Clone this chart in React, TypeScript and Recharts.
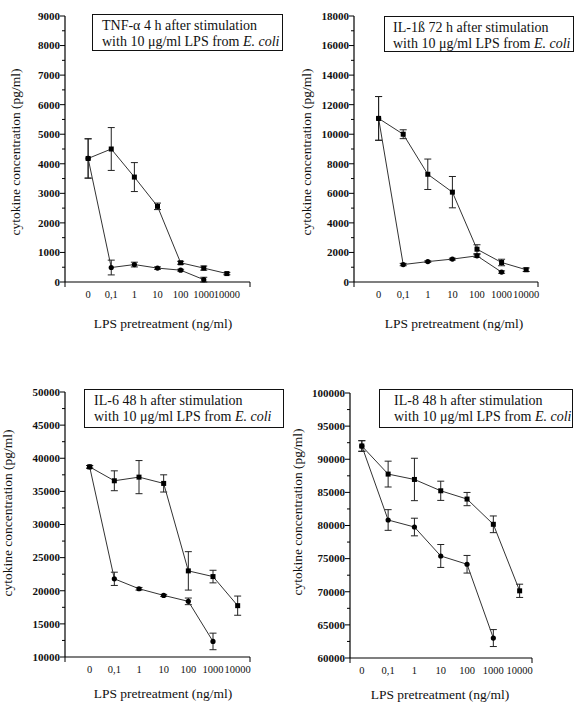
import React from 'react';
import { LineChart, Line, XAxis, YAxis, ErrorBar } from 'recharts';

// LPS pretreatment doses (ng/ml), shown as category positions 0..6
const doseLabels = ['0', '0,1', '1', '10', '100', '1000', '10000'];
const dosePos = [0, 1, 2, 3, 4, 5, 6];

// TNF-alpha, 4 h
const tnfUpper = [4180, 4500, 3550, 2560, 650, 470, 285];
const tnfUpperErr = [665, 725, 490, 110, 50, 70, 40];
const tnfLower = [4180, 490, 590, 470, 400, 80];
const tnfLowerErr = [665, 250, 80, 40, 30, 80];

// IL-1beta, 72 h
const il1Upper = [11070, 10000, 7290, 6080, 2220, 1320, 830];
const il1UpperErr = [1480, 300, 1030, 1060, 300, 220, 120];
const il1Lower = [11070, 1180, 1380, 1550, 1770, 670];
const il1LowerErr = [1480, 80, 50, 60, 100, 80];

// IL-6, 48 h
const il6Upper = [38700, 36600, 37150, 36200, 23000, 22140, 17750];
const il6UpperErr = [200, 1500, 2500, 1300, 2900, 950, 1450];
const il6Lower = [38700, 21800, 20300, 19300, 18400, 12350];
const il6LowerErr = [200, 1000, 200, 150, 500, 1250];

// IL-8, 48 h
const il8Upper = [92000, 87760, 86950, 85240, 83990, 80180, 70140];
const il8UpperErr = [800, 1950, 3200, 1450, 1000, 1260, 1000];
const il8Lower = [92000, 80830, 79770, 75400, 74150, 63010];
const il8LowerErr = [800, 1560, 1330, 1730, 1330, 1280];

const SERIF = '"Liberation Serif", "Times New Roman", serif';

const toRows = (vals: number[], errs: number[]) =>
  vals.map((v, i) => ({ x: dosePos[i], v, e: errs[i] }));

const SquareDot = (p: any) => (
  <rect key={`s-${p.index}`} x={p.cx - 2.5} y={p.cy - 2.5} width={5} height={5} fill="#000" />
);
const CircleDot = (p: any) => (
  <circle key={`c-${p.index}`} cx={p.cx} cy={p.cy} r={2.6} fill="#000" />
);

const makeYTick = (major: number) => (p: any) => {
  const { x, y, payload } = p;
  const ax = x + 4;
  const isMajor = Math.abs(payload.value % major) < 1e-6;
  return (
    <g>
      <line x1={ax} x2={ax - (isMajor ? 5 : 3)} y1={y} y2={y} stroke="#000" strokeWidth={1} />
      {isMajor && (
        <text x={x - 1} y={y} dy="0.35em" textAnchor="end" fontFamily={SERIF} fontSize={11} fontWeight={600} fill="#111">
          {payload.value}
        </text>
      )}
    </g>
  );
};

const makeXTick = (lo: number, hi: number) => (p: any) => {
  const { x, y, payload } = p;
  const ay = y - 4;
  const v = payload.value;
  const isEnd = v === lo || v === hi;
  return (
    <g>
      {isEnd && <line x1={x} x2={x} y1={ay} y2={ay + 5} stroke="#000" strokeWidth={1} />}
      {!isEnd && (
        <text x={x} y={ay + 16} textAnchor="middle" fontFamily={SERIF} fontSize={10.5} fill="#111">
          {doseLabels[v]}
        </text>
      )}
    </g>
  );
};

type PanelProps = {
  left: number; top: number; width: number; height: number;
  plot: { l: number; r: number; t: number; b: number };
  xDomain: [number, number];
  yDomain: [number, number];
  major: number; minor: number;
  upper: number[]; upperErr: number[];
  lower: number[]; lowerErr: number[];
};

function Panel(props: PanelProps) {
  const { left, top, width, height, plot, xDomain, yDomain, major, minor } = props;
  const yTicks: number[] = [];
  for (let v = yDomain[0]; v <= yDomain[1] + 1e-6; v += minor) yTicks.push(v);
  const xTicks = [xDomain[0], ...dosePos, xDomain[1]];
  const xAxisH = 20;
  const margin = {
    top: plot.t - top,
    left: 0,
    right: left + width - plot.r,
    bottom: top + height - plot.b - xAxisH,
  };
  return (
    <div style={{ position: 'absolute', left, top }}>
      <LineChart width={width} height={height} margin={margin}>
        <XAxis
          type="number" dataKey="x" domain={xDomain} ticks={xTicks} interval={0}
          height={xAxisH} tickSize={2} tickMargin={2} tickLine={false}
          axisLine={{ stroke: '#000', strokeWidth: 1.2 }}
          tick={makeXTick(xDomain[0], xDomain[1])} allowDuplicatedCategory={false}
        />
        <YAxis
          type="number" domain={yDomain} ticks={yTicks} interval={0}
          width={plot.l - left} tickSize={2} tickMargin={2} tickLine={false}
          axisLine={{ stroke: '#000', strokeWidth: 1.2 }}
          tick={makeYTick(major)}
        />
        <Line
          data={toRows(props.upper, props.upperErr)} dataKey="v" stroke="#333" strokeWidth={1}
          dot={SquareDot} activeDot={false} isAnimationActive={false}
        >
          <ErrorBar dataKey="e" direction="y" width={3.5} stroke="#222" strokeWidth={1} />
        </Line>
        <Line
          data={toRows(props.lower, props.lowerErr)} dataKey="v" stroke="#333" strokeWidth={1}
          dot={CircleDot} activeDot={false} isAnimationActive={false}
        >
          <ErrorBar dataKey="e" direction="y" width={3.5} stroke="#222" strokeWidth={1} />
        </Line>
      </LineChart>
    </div>
  );
}

const textBase: React.CSSProperties = { position: 'absolute', fontFamily: SERIF, color: '#111', whiteSpace: 'nowrap' };

function YTitle({ cx, cy }: { cx: number; cy: number }) {
  return (
    <div style={{ ...textBase, left: cx, top: cy, fontSize: 13.5, transform: 'translate(-50%, -50%) rotate(-90deg)' }}>
      cytokine concentration (pg/ml)
    </div>
  );
}

function XTitle({ cx, cy }: { cx: number; cy: number }) {
  return (
    <div style={{ ...textBase, left: cx, top: cy, fontSize: 13.5, transform: 'translate(-50%, -50%)' }}>
      LPS pretreatment (ng/ml)
    </div>
  );
}

function Box({ l, t, r, b, tx, title }: { l: number; t: number; r: number; b: number; tx: number; title: string }) {
  return (
    <div
      style={{
        ...textBase, left: l, top: t, width: r - l, height: b - t, boxSizing: 'border-box',
        border: '1.2px solid #111', background: '#fff', paddingLeft: tx - l - 1, paddingTop: 3,
        fontSize: 14, lineHeight: '15.5px',
      }}
    >
      <div>{title}</div>
      <div>with 10 μg/ml LPS from <i>E. coli</i></div>
    </div>
  );
}

export default function App() {
  return (
    <div style={{ position: 'absolute', left: 0, top: 0, width: 582, height: 709, background: '#fff', overflow: 'hidden' }}>
      <Panel
        left={0} top={0} width={291} height={320} plot={{ l: 65, r: 250, t: 16, b: 282 }}
        xDomain={[-1, 7]} yDomain={[0, 9000]} major={1000} minor={500}
        upper={tnfUpper} upperErr={tnfUpperErr} lower={tnfLower} lowerErr={tnfLowerErr}
      />
      <Panel
        left={291} top={0} width={291} height={320} plot={{ l: 354, r: 538, t: 16, b: 282 }}
        xDomain={[-1, 6.48]} yDomain={[0, 18000]} major={2000} minor={1000}
        upper={il1Upper} upperErr={il1UpperErr} lower={il1Lower} lowerErr={il1LowerErr}
      />
      <Panel
        left={0} top={360} width={291} height={349} plot={{ l: 65, r: 250, t: 392, b: 657 }}
        xDomain={[-1, 6.5]} yDomain={[10000, 50000]} major={5000} minor={2500}
        upper={il6Upper} upperErr={il6UpperErr} lower={il6Lower} lowerErr={il6LowerErr}
      />
      <Panel
        left={291} top={360} width={291} height={349} plot={{ l: 350, r: 532, t: 393, b: 658 }}
        xDomain={[-0.45, 6.47]} yDomain={[60000, 100000]} major={5000} minor={2500}
        upper={il8Upper} upperErr={il8UpperErr} lower={il8Lower} lowerErr={il8LowerErr}
      />

      <Box l={92} t={14} r={283} b={51} tx={102} title="TNF-α 4 h after stimulation" />
      <Box l={384} t={16} r={574} b={52} tx={393} title="IL-1ß 72 h after stimulation" />
      <Box l={84} t={389} r={284} b={428} tx={94} title="IL-6 48 h after stimulation" />
      <Box l={379} t={389} r={573} b={428} tx={394} title="IL-8 48 h after stimulation" />

      <YTitle cx={16} cy={152} />
      <YTitle cx={307} cy={152} />
      <YTitle cx={8} cy={513} />
      <YTitle cx={298} cy={512} />

      <XTitle cx={163} cy={324} />
      <XTitle cx={454} cy={324} />
      <XTitle cx={163} cy={694} />
      <XTitle cx={440} cy={695} />
    </div>
  );
}
